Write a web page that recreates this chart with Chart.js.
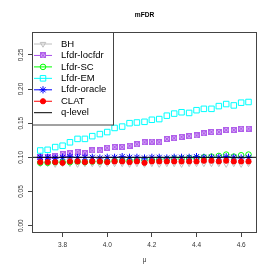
<!DOCTYPE html>
<html>
<head>
<meta charset="utf-8">
<script src="https://cdn.jsdelivr.net/npm/chart.js@4/dist/chart.umd.min.js"></script>
<style>
    html, body { margin: 0; padding: 0; background: #fff; }
    #wrap { width: 273px; height: 273px; }
</style>
</head>
<body>
<div id="wrap"><canvas id="grafico"></canvas></div>
<script>
// Valores (mFDR em função de mu)
const mu = [3.700, 3.733, 3.767, 3.800, 3.833, 3.867, 3.900, 3.933, 3.967, 4.000,
            4.033, 4.067, 4.100, 4.133, 4.167, 4.200, 4.233, 4.267, 4.300, 4.333,
            4.367, 4.400, 4.433, 4.467, 4.500, 4.533, 4.567, 4.600, 4.633];
const bh = [0.091, 0.091, 0.090, 0.091, 0.091, 0.090, 0.091, 0.091, 0.090, 0.091,
            0.091, 0.091, 0.090, 0.091, 0.090, 0.091, 0.090, 0.091, 0.091, 0.090,
            0.091, 0.091, 0.091, 0.091, 0.091, 0.090, 0.091, 0.090, 0.091];
const locfdr = [0.100, 0.101, 0.102, 0.105, 0.106, 0.108, 0.106, 0.110, 0.110, 0.114,
                0.115, 0.115, 0.117, 0.119, 0.122, 0.123, 0.122, 0.127, 0.128, 0.130,
                0.131, 0.132, 0.135, 0.137, 0.137, 0.140, 0.140, 0.142, 0.142];
const sc = [0.092, 0.092, 0.093, 0.093, 0.093, 0.094, 0.093, 0.094, 0.094, 0.094,
            0.095, 0.095, 0.095, 0.096, 0.096, 0.096, 0.097, 0.097, 0.098, 0.098,
            0.099, 0.099, 0.100, 0.101, 0.102, 0.104, 0.101, 0.103, 0.104];
const em = [0.110, 0.111, 0.115, 0.117, 0.122, 0.127, 0.127, 0.131, 0.134, 0.137,
            0.143, 0.145, 0.150, 0.151, 0.152, 0.155, 0.156, 0.161, 0.164, 0.166,
            0.165, 0.169, 0.171, 0.171, 0.175, 0.178, 0.176, 0.180, 0.181];
const oracle = [0.100, 0.100, 0.099, 0.100, 0.101, 0.100, 0.100, 0.100, 0.099, 0.100,
                0.100, 0.101, 0.100, 0.100, 0.099, 0.100, 0.100, 0.099, 0.100, 0.100,
                0.100, 0.101, 0.100, 0.100, 0.100, 0.101, 0.100, 0.099, 0.100];
const clat = [0.093, 0.093, 0.093, 0.092, 0.094, 0.094, 0.093, 0.094, 0.094, 0.093,
              0.094, 0.094, 0.093, 0.094, 0.092, 0.094, 0.094, 0.094, 0.094, 0.094,
              0.094, 0.094, 0.095, 0.095, 0.094, 0.095, 0.094, 0.094, 0.094];
const qLevel = 0.1;
const xTicks = [3.8, 4.0, 4.2, 4.4, 4.6];
const yTicks = [0.00, 0.05, 0.10, 0.15, 0.20, 0.25];
const xRange = [3.663, 4.671];
const yRange = [-0.0108, 0.2835];

const FONTE = "'Liberation Sans', Arial, sans-serif";

const pts = (ys) => ys.map((y, i) => ({ x: mu[i], y }));

// quadrado com X (pch 7 do R)
function quadradoX(size, cor, fundo) {
    const c = document.createElement('canvas');
    c.width = c.height = size;
    const g = c.getContext('2d');
    g.fillStyle = fundo;
    g.fillRect(0.5, 0.5, size - 1, size - 1);
    g.strokeStyle = cor;
    g.lineWidth = 1;
    g.strokeRect(0.5, 0.5, size - 1, size - 1);
    g.beginPath();
    g.moveTo(0.5, 0.5); g.lineTo(size - 0.5, size - 0.5);
    g.moveTo(size - 0.5, 0.5); g.lineTo(0.5, size - 0.5);
    g.stroke();
    return c;
}

const serie = (label, data, cor, estilo, raio, fundo, ordem, extra) => Object.assign({
    label, data: pts(data), borderColor: cor, backgroundColor: fundo,
    pointStyle: estilo, pointRadius: raio, pointHoverRadius: raio,
    pointBorderWidth: 1, borderWidth: 1, showLine: false, order: ordem,
}, extra || {});

const datasets = [
    serie('BH', bh, '#bebebe', 'triangle', 3.2, 'rgba(0,0,0,0)', 6, { pointRotation: 180 }),
    serie('Lfdr-locfdr', locfdr, '#a84ee8', quadradoX(6, '#b060ea', '#d6a8f6'), 3, '#d6a8f6', 5),
    serie('Lfdr-SC', sc, '#00ff00', 'circle', 2.8, 'rgba(0,0,0,0)', 4),
    serie('Lfdr-EM', em, '#00ffff', 'rect', 3.9, 'rgba(0,0,0,0)', 3),
    serie('Lfdr-oracle', oracle, '#0000ff', 'star', 3.6, 'rgba(0,0,0,0)', 2),
    serie('CLAT', clat, '#ff0000', 'circle', 2.6, '#ff0000', 1),
    {
        label: 'q-level',
        data: [{ x: xRange[0], y: qLevel }, { x: xRange[1], y: qLevel }],
        borderColor: '#000', backgroundColor: '#000', borderWidth: 1,
        pointRadius: 0, showLine: true, order: 0,
    },
];

// moldura, rótulos do eixo y e legenda no estilo do R
const estiloR = {
    id: 'estiloR',
    afterDraw(chart) {
        const { ctx, chartArea: a } = chart;
        const ys = chart.scales.y;
        ctx.save();
        ctx.strokeStyle = '#444';
        ctx.lineWidth = 1;
        ctx.strokeRect(a.left + 0.5, a.top + 0.5, a.right - a.left - 1, a.bottom - a.top - 1);

        ctx.fillStyle = '#333';
        ctx.font = `6.5px ${FONTE}`;
        ctx.textAlign = 'center';
        ctx.textBaseline = 'middle';
        yTicks.forEach(v => {
            ctx.save();
            ctx.translate(21, ys.getPixelForValue(v));
            ctx.rotate(-Math.PI / 2);
            ctx.fillText(v.toFixed(2), 0, 0);
            ctx.restore();
        });

        // legenda
        const lx = a.left + 0.5, ly = a.top + 0.5, lw = 81, lh = 92.5;
        ctx.fillStyle = '#fff';
        ctx.fillRect(lx, ly, lw, lh);
        ctx.strokeStyle = '#444';
        ctx.strokeRect(lx, ly, lw, lh);
        ctx.font = `9.5px ${FONTE}`;
        ctx.textAlign = 'left';
        chart.data.datasets.forEach((d, i) => {
            const y = 44 + i * 11.45;
            ctx.strokeStyle = d.borderColor;
            ctx.lineWidth = 1;
            ctx.beginPath();
            ctx.moveTo(34, y);
            ctx.lineTo(52, y);
            ctx.stroke();
            if (d.pointRadius > 0 && Chart.helpers && Chart.helpers.drawPoint) {
                ctx.fillStyle = d.backgroundColor;
                Chart.helpers.drawPoint(ctx, {
                    pointStyle: d.pointStyle, radius: d.pointRadius,
                    rotation: d.pointRotation || 0, borderWidth: 1,
                }, 43, y);
            }
            ctx.fillStyle = '#000';
            ctx.fillText(d.label, 61, y);
        });
        ctx.restore();
    },
};

new Chart(document.getElementById('grafico'), {
    type: 'scatter',
    data: { datasets },
    plugins: [estiloR],
    options: {
        responsive: true,
        maintainAspectRatio: false,
        animation: false,
        devicePixelRatio: 1,
        layout: { padding: { left: 0, right: 16, top: 0, bottom: 0 } },
        plugins: {
            legend: { display: false },
            tooltip: { enabled: false },
            title: {
                display: true,
                text: 'mFDR',
                fullSize: false,
                color: '#000',
                font: { family: FONTE, size: 6.6, weight: 'bold', lineHeight: 1.2 },
                padding: { top: 11, bottom: 13.08 },
            },
        },
        scales: {
            x: {
                type: 'linear',
                min: xRange[0],
                max: xRange[1],
                afterBuildTicks: (s) => { s.ticks = xTicks.map(v => ({ value: v })); },
                afterFit: (s) => { s.height = 40; },
                grid: { drawOnChartArea: false, drawTicks: true, tickLength: 4, tickColor: '#444' },
                border: { display: false },
                ticks: {
                    color: '#333', padding: 4, maxRotation: 0, autoSkip: false,
                    font: { family: FONTE, size: 6.5 },
                    callback: (v) => v.toFixed(1),
                },
                title: {
                    display: true, text: 'μ', color: '#333',
                    font: { family: FONTE, size: 6.5, lineHeight: 1.2 },
                    padding: { top: 0, bottom: 9 },
                },
            },
            y: {
                type: 'linear',
                min: yRange[0],
                max: yRange[1],
                afterBuildTicks: (s) => { s.ticks = yTicks.map(v => ({ value: v })); },
                afterFit: (s) => { s.width = 32; },
                grid: { drawOnChartArea: false, drawTicks: true, tickLength: 4, tickColor: '#444' },
                border: { display: false },
                ticks: { display: false },
            },
        },
    },
});
</script>
</body>
</html>
